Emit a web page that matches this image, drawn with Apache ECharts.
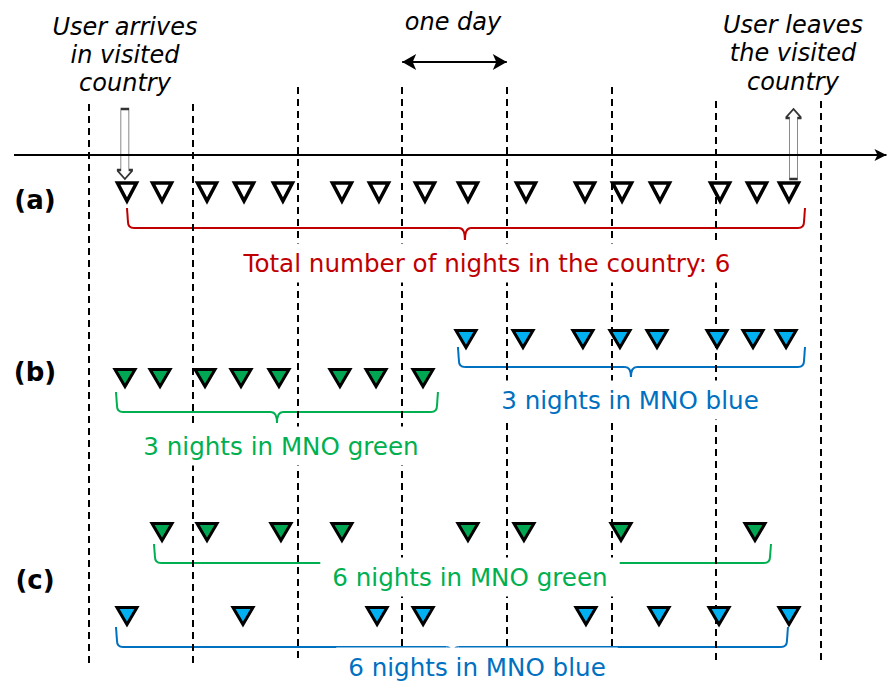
<!DOCTYPE html>
<html><head><meta charset="utf-8">
<script src="https://cdn.jsdelivr.net/npm/echarts@6/dist/echarts.min.js"></script>
<style>html,body{margin:0;padding:0;background:#fff}#c{width:887px;height:683px}</style>
</head><body><div id="c"></div>
<script>
// ---------------- DATA (time in days; day boundaries = midnights) ----------------
const dayBoundaries = [0, 1, 2, 3, 4, 5, 6, 7];
// (a) all network events of the user
const rowA = [0.369, 0.704, 1.134, 1.488, 1.860, 2.424, 2.778, 3.218, 3.629, 4.184, 4.748, 5.102, 5.465, 6.039, 6.392, 6.698];
// (b) sequential use of two MNOs
const bGreen = [0.350, 0.685, 1.115, 1.459, 1.822, 2.405, 2.750, 3.199];
const bBlue = [3.610, 4.155, 4.728, 5.082, 5.436, 6.010, 6.354, 6.670];
// (c) alternating use of two MNOs
const cGreen = [0.704, 1.134, 1.841, 2.424, 3.629, 4.164, 5.092, 6.373];
const cBlue = [0.369, 1.478, 2.760, 3.200, 4.757, 5.455, 6.029, 6.698];
// arrival / departure moments and the "one day" span
const arrivalTime = [0.349];
const departureTime = [6.741];
const oneDaySpan = [3, 4];
// braces: [start, end, middle]
const braceA = [0.369, 6.851, 3.600];
const braceBGreen = [0.264, 3.342, 1.803];
const braceBBlue = [3.533, 6.851, 5.187];
const braceCGreen = [0.627, 6.526, 3.572];
const braceCBlue = [0.264, 6.688, 3.480];
// texts
const rowLabels = ['(a)', '(b)', '(c)'];
const noteArrive = 'User arrives\nin visited\ncountry';
const noteLeave = 'User leaves\nthe visited\ncountry';
const noteDay = 'one day';
const totalText = 'Total number of nights in the country: 6';
const bGreenText = '3 nights in MNO green';
const bBlueText = '3 nights in MNO blue';
const cGreenText = '6 nights in MNO green';
const cBlueText = '6 nights in MNO blue';

// ---------------- LAYOUT / STYLE ----------------
const L = {
  xMin: -0.845, xMax: 7.635, yMax: 683,
  timelineY: 155, timelineStart: -0.711, timelineEnd: 7.63,
  dayArrowY: 62,
  lineTop: [104, 104, 87, 87, 87, 87, 101, 101],
  lineBottom: [663, 663, 663, 647, 647, 647, 663, 663],
  rowAY: 192, bBlueY: 339, bGreenY: 378, cGreenY: 532, cBlueY: 616,
  arrowY: 144,
  braceA: [208, 228, 240], braceBGreen: [392, 412, 423], braceBBlue: [347, 367, 377],
  braceCGreen: [544, 563, 574], braceCBlue: [627, 647, 658]
};
const C = { red: '#c00000', green: '#00b050', blue: '#0070c0', gFill: '#00a651', bFill: '#00b0f0' };
const FONT = '"DejaVu Sans", Verdana, sans-serif';

const chart = echarts.init(document.getElementById('c'), null, { renderer: 'svg' });

function tri(name, data, y, fill, size, bw) {
  return {
    name, type: 'scatter', z: 5, silent: true,
    data: data.map(t => [t, y]),
    symbol: 'triangle', symbolRotate: 180, symbolSize: size,
    itemStyle: { color: fill, borderColor: '#000', borderWidth: bw, opacity: 1, borderJoin: 'miter' }
  };
}
function braceItem(params, api) {
  const s = api.value(0), e = api.value(1), m = api.value(2);
  const t = api.value(3), b = api.value(4), tp = api.value(5);
  const x1 = api.coord([s, t])[0], x2 = api.coord([e, t])[0], xm = api.coord([m, t])[0];
  const yT = api.coord([s, t])[1], yB = api.coord([s, b])[1], yTip = api.coord([m, tp])[1];
  const r = 6;
  const st = { stroke: api.visual('color'), lineWidth: 2, fill: 'none' };
  const ln = (a, bb, c, d) => ({ type: 'line', shape: { x1: a, y1: bb, x2: c, y2: d }, style: st });
  const bz = (a, bb, cx, cy, c, d) => ({ type: 'bezierCurve', shape: { x1: a, y1: bb, cpx1: cx, cpy1: cy, x2: c, y2: d }, style: st });
  return {
    type: 'group', children: [
      ln(x1, yT, x1 + 1, yB - r),
      bz(x1 + 1, yB - r, x1 + 1, yB, x1 + 1 + r, yB),
      ln(x1 + 1 + r, yB, xm - r, yB),
      bz(xm - r, yB, xm, yB, xm, yTip),
      bz(xm, yTip, xm, yB, xm + r, yB),
      ln(xm + r, yB, x2 - 1 - r, yB),
      bz(x2 - 1 - r, yB, x2 - 1, yB, x2 - 1, yB - r),
      ln(x2 - 1, yB - r, x2, yT)
    ]
  };
}
function brace(name, br, ys, color) {
  return {
    name, type: 'custom', z: 4, silent: true,
    itemStyle: { color },
    renderItem: braceItem,
    data: [[br[0], br[1], br[2], ys[0], ys[1], ys[2]]]
  };
}
function txt(text, x, y, opt) {
  return {
    type: 'text', z: 50, silent: true,
    style: Object.assign({
      text, x, y, align: 'center', verticalAlign: 'middle',
      font: '24.6px ' + FONT, fill: '#000'
    }, opt || {})
  };
}
const bg = { backgroundColor: '#fff', padding: [7, 12] };

const dashedPairs = dayBoundaries.map((d, i) => [
  { coord: [d, L.lineTop[i]] }, { coord: [d, L.lineBottom[i]] }
]);

const option = {
  animation: false,
  backgroundColor: '#fff',
  grid: { left: 0, right: 0, top: 0, bottom: 0, containLabel: false },
  xAxis: { type: 'value', min: L.xMin, max: L.xMax, show: false },
  yAxis: { type: 'value', min: 0, max: L.yMax, inverse: true, show: false },
  series: [
    {
      name: 'day boundaries', type: 'line', data: [], z: 1, silent: true,
      markLine: {
        silent: true, symbol: ['none', 'none'], label: { show: false },
        lineStyle: { color: '#000', width: 2, type: [7, 5] },
        emphasis: { disabled: true },
        data: dashedPairs
      }
    },
    {
      name: 'timeline', type: 'line', data: [], z: 3, silent: true,
      markLine: {
        silent: true, label: { show: false }, emphasis: { disabled: true },
        lineStyle: { color: '#000', width: 2, type: 'solid' },
        data: [
          [{ coord: [L.timelineStart, L.timelineY], symbol: 'none' },
           { coord: [L.timelineEnd, L.timelineY], symbol: 'arrow', symbolSize: [9, 12] }],
          [{ coord: [oneDaySpan[0], L.dayArrowY], symbol: 'arrow', symbolSize: [12, 14] },
           { coord: [oneDaySpan[1], L.dayArrowY], symbol: 'arrow', symbolSize: [12, 14] }]
        ]
      }
    },
    {
      name: 'arrival', type: 'scatter', z: 2, silent: true,
      data: arrivalTime.map(t => [t, L.arrowY]),
      symbol: 'path://M4 0H12V61H16L8 70L0 61H4Z', symbolSize: [16, 70],
      itemStyle: { color: 'rgba(255,255,255,0)', borderColor: '#000', borderWidth: 1.2 }
    },
    {
      name: 'departure', type: 'scatter', z: 2, silent: true,
      data: departureTime.map(t => [t, L.arrowY]),
      symbol: 'path://M8 0L16 9H12V70H4V9H0Z', symbolSize: [16, 70],
      itemStyle: { color: 'rgba(255,255,255,0)', borderColor: '#000', borderWidth: 1.2 }
    },
    tri('(a) events', rowA, L.rowAY, '#fff', [19, 18], 3.5),
    tri('(b) MNO green', bGreen, L.bGreenY, C.gFill, [20, 17], 3),
    tri('(b) MNO blue', bBlue, L.bBlueY, C.bFill, [20, 17], 3),
    tri('(c) MNO green', cGreen, L.cGreenY, C.gFill, [20, 17], 3),
    tri('(c) MNO blue', cBlue, L.cBlueY, C.bFill, [20, 17], 3),
    brace('brace a', braceA, L.braceA, C.red),
    brace('brace b green', braceBGreen, L.braceBGreen, C.green),
    brace('brace b blue', braceBBlue, L.braceBBlue, C.blue),
    brace('brace c green', braceCGreen, L.braceCGreen, C.green),
    brace('brace c blue', braceCBlue, L.braceCBlue, C.blue)
  ],
  graphic: { elements: [
    txt(rowLabels[0], 35, 200, { font: 'bold 26px ' + FONT }),
    txt(rowLabels[1], 35, 372, { font: 'bold 26px ' + FONT }),
    txt(rowLabels[2], 35, 580, { font: 'bold 26px ' + FONT }),
    txt(noteArrive, 125, 55, { font: 'italic 24px ' + FONT, lineHeight: 28, backgroundColor: '#fff' }),
    txt(noteLeave, 793, 53, { font: 'italic 24px ' + FONT, lineHeight: 28.5 }),
    txt(noteDay, 453, 22, { font: 'italic 24px ' + FONT }),
    txt(totalText, 487, 263, Object.assign({ fill: C.red }, bg)),
    txt(bBlueText, 630, 400, Object.assign({ fill: C.blue }, bg)),
    txt(bGreenText, 281, 446, Object.assign({ fill: C.green }, bg)),
    txt(cGreenText, 470, 577, Object.assign({ fill: C.green }, bg)),
    txt(cBlueText, 477, 667, Object.assign({ fill: C.blue }, bg))
  ] }
};
chart.setOption(option);
</script></body></html>
